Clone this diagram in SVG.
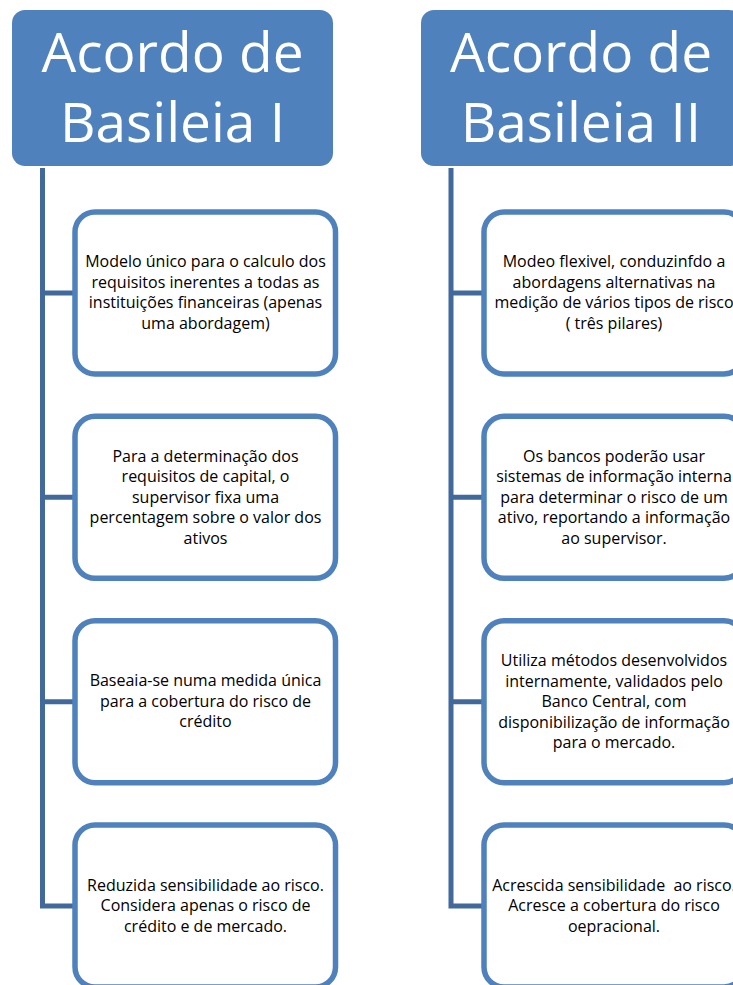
<svg xmlns="http://www.w3.org/2000/svg" width="733" height="985" viewBox="0 0 733 985">
<style>
.hdr{fill:#4F81BD}
.ht{font-family:"Open Sans","Noto Sans",sans-serif;font-size:55px;fill:#FFFFFF;text-anchor:middle}
.box{fill:#FFFFFF;stroke:#4F81BD;stroke-width:5.5}
.bt{font-family:"Open Sans","Noto Sans",sans-serif;font-size:16px;fill:#000000;text-anchor:middle}
.con{fill:none;stroke:#41699C;stroke-width:5;stroke-linejoin:miter}
</style>
<rect width="733" height="985" fill="#FFFFFF"/>
<g id="connectors">
<path class="con" d="M42.5 168 V906 H75 M42.5 293 H75 M42.5 497.3 H75 M42.5 701.7 H75"/>
<path class="con" d="M451 168 V906 H484 M451 293 H484 M451 497.3 H484 M451 701.7 H484"/>
</g>
<g id="header1">
<rect class="hdr" x="12" y="10" width="321" height="156" rx="13"/>
<text class="ht" x="172.5" y="72">Acordo de</text>
<text class="ht" x="172.5" y="142">Basileia I</text>
</g>
<g id="header2">
<rect class="hdr" x="421" y="10" width="321" height="156" rx="13"/>
<text class="ht" x="581" y="72">Acordo de</text>
<text class="ht" x="581" y="142">Basileia II</text>
</g>
<g id="l1">
<rect class="box" x="75" y="212" width="260.5" height="162" rx="20"/>
<text class="bt"><tspan x="205.5" y="267">Modelo único para o calculo dos</tspan><tspan x="205.5" y="287.5">requisitos inerentes a todas as</tspan><tspan x="205.5" y="308">instituições financeiras (apenas</tspan><tspan x="205.5" y="328.5">uma abordagem)</tspan></text>
</g>
<g id="l2">
<rect class="box" x="75" y="416.3" width="260.5" height="162" rx="20"/>
<text class="bt"><tspan x="205.5" y="461.5">Para a determinação dos</tspan><tspan x="205.5" y="482">requisitos de capital, o</tspan><tspan x="205.5" y="502.5">supervisor fixa uma</tspan><tspan x="205.5" y="523">percentagem sobre o valor dos</tspan><tspan x="205.5" y="543.5">ativos</tspan></text>
</g>
<g id="l3">
<rect class="box" x="75" y="620.7" width="260.5" height="162" rx="20"/>
<text class="bt"><tspan x="205.5" y="686.3">Baseaia-se numa medida única</tspan><tspan x="205.5" y="706.7">para a cobertura do risco de</tspan><tspan x="205.5" y="727.1">crédito</tspan></text>
</g>
<g id="l4">
<rect class="box" x="75" y="825" width="260.5" height="162" rx="20"/>
<text class="bt"><tspan x="205.5" y="890.5">Reduzida sensibilidade ao risco.</tspan><tspan x="205.5" y="911">Considera apenas o risco de</tspan><tspan x="205.5" y="931.5">crédito e de mercado.</tspan></text>
</g>
<g id="r1">
<rect class="box" x="484" y="212" width="260" height="162" rx="20"/>
<text class="bt"><tspan x="614" y="267">Modeo flexivel, conduzinfdo a</tspan><tspan x="614" y="287.5">abordagens alternativas na</tspan><tspan x="614" y="308">medição de vários tipos de risco</tspan><tspan x="614" y="328.5">( três pilares)</tspan></text>
</g>
<g id="r2">
<rect class="box" x="484" y="416.3" width="260" height="162" rx="20"/>
<text class="bt"><tspan x="614" y="461.5">Os bancos poderão usar</tspan><tspan x="614" y="482">sistemas de informação interna</tspan><tspan x="614" y="502.5">para determinar o risco de um</tspan><tspan x="614" y="523">ativo, reportando a informação</tspan><tspan x="614" y="543.5">ao supervisor.</tspan></text>
</g>
<g id="r3">
<rect class="box" x="484" y="620.7" width="260" height="162" rx="20"/>
<text class="bt"><tspan x="614" y="666">Utiliza métodos desenvolvidos</tspan><tspan x="614" y="686.5">internamente, validados pelo</tspan><tspan x="614" y="707">Banco Central, com</tspan><tspan x="614" y="727.5">disponibilização de informação</tspan><tspan x="614" y="748">para o mercado.</tspan></text>
</g>
<g id="r4">
<rect class="box" x="484" y="825" width="260" height="162" rx="20"/>
<text class="bt" xml:space="preserve"><tspan x="614" y="890.5">Acrescida sensibilidade  ao risco.</tspan><tspan x="614" y="911">Acresce a cobertura do risco</tspan><tspan x="614" y="931.5">oepracional.</tspan></text>
</g>
</svg>
